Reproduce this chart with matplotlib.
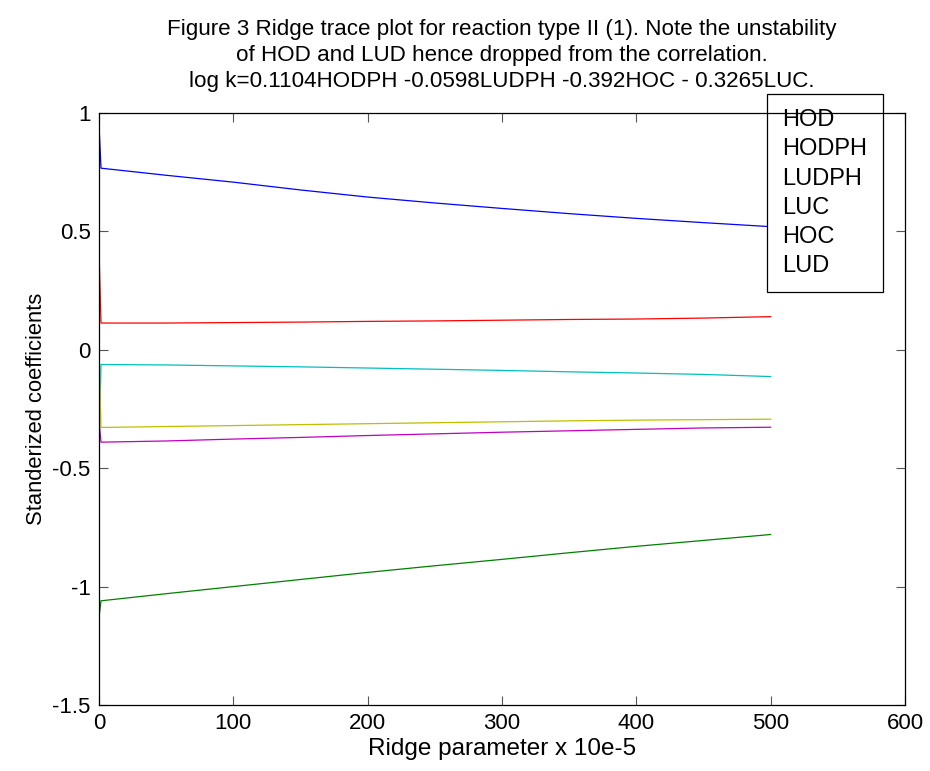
import numpy as np
import matplotlib
matplotlib.use("Agg")
import matplotlib.pyplot as plt

plt.rcParams["font.family"] = ["Liberation Sans", "DejaVu Sans"]

# ridge parameter (x 10e-5)
ridge_k = [0, 1.5, 50, 100, 150, 200, 250, 300, 350, 400, 450, 500]

hod   = [0.95, 0.767, 0.737, 0.708, 0.675, 0.645, 0.620, 0.597, 0.575, 0.555, 0.537, 0.520]
hodph = [-1.13, -1.06, -1.030, -1.000, -0.970, -0.940, -0.912, -0.885, -0.857, -0.830, -0.805, -0.780]
ludph = [0.42, 0.113, 0.113, 0.115, 0.117, 0.120, 0.122, 0.125, 0.128, 0.130, 0.134, 0.140]
luc   = [-0.42, -0.062, -0.064, -0.068, -0.072, -0.077, -0.082, -0.087, -0.093, -0.098, -0.104, -0.113]
hoc   = [-0.30, -0.390, -0.385, -0.377, -0.370, -0.362, -0.355, -0.348, -0.342, -0.336, -0.330, -0.327]
lud   = [0.0, -0.328, -0.324, -0.320, -0.316, -0.312, -0.308, -0.304, -0.300, -0.297, -0.295, -0.293]

labels = ["HOD", "HODPH", "LUDPH", "LUC", "HOC", "LUD"]
series = [hod, hodph, ludph, luc, hoc, lud]
# MATLAB default line colour order
colors = [(0, 0, 1), (0, 0.5, 0), (1, 0, 0), (0, 0.75, 0.75), (0.75, 0, 0.75), (0.75, 0.75, 0)]

fig = plt.figure(figsize=(9.3, 7.71), dpi=100)
ax = fig.add_axes([99 / 930, 1 - 705 / 771, (905 - 99) / 930, (705 - 113) / 771])

lines = []
for y, c, lab in zip(series, colors, labels):
    ln, = ax.plot(ridge_k, y, color=c, lw=0.9, label=lab)
    lines.append(ln)

ax.set_xlim(0, 600)
ax.set_ylim(-1.5, 1)
ax.set_xticks([0, 100, 200, 300, 400, 500, 600])
ax.set_yticks([-1.5, -1, -0.5, 0, 0.5, 1])
ax.set_yticklabels(["-1.5", "-1", "-0.5", "0", "0.5", "1"])
ax.tick_params(direction="in", length=6.5, width=0.8, color="#555555",
               top=True, right=True, labelsize=16, pad=6)
for sp in ax.spines.values():
    sp.set_linewidth(0.9)
    sp.set_zorder(6)

ax.set_xlabel("Ridge parameter x 10e-5", fontsize=17.5, labelpad=3)
ax.set_ylabel("Standerized coefficients", fontsize=15.8, labelpad=4)
ax.set_title("Figure 3 Ridge trace plot for reaction type II (1). Note the unstability\n"
             "of HOD and LUD hence dropped from the correlation.\n"
             "log k=0.1104HODPH -0.0598LUDPH -0.392HOC - 0.3265LUC.",
             fontsize=16.1, linespacing=1.3, pad=19)

leg = ax.legend(lines, labels, loc="upper left",
                bbox_to_anchor=(767 / 930, 1 - 94 / 771), bbox_transform=fig.transFigure,
                handlelength=0, handletextpad=0, fontsize=17, frameon=True,
                fancybox=False, borderpad=0.65, labelspacing=0.3,
                borderaxespad=0)
for h in leg.legend_handles:
    h.set_visible(False)
frame = leg.get_frame()
frame.set_edgecolor("black")
frame.set_linewidth(0.9)
frame.set_facecolor("white")
frame.set_alpha(1)
leg.set_zorder(5)

fig.savefig("out.png", dpi=100)
